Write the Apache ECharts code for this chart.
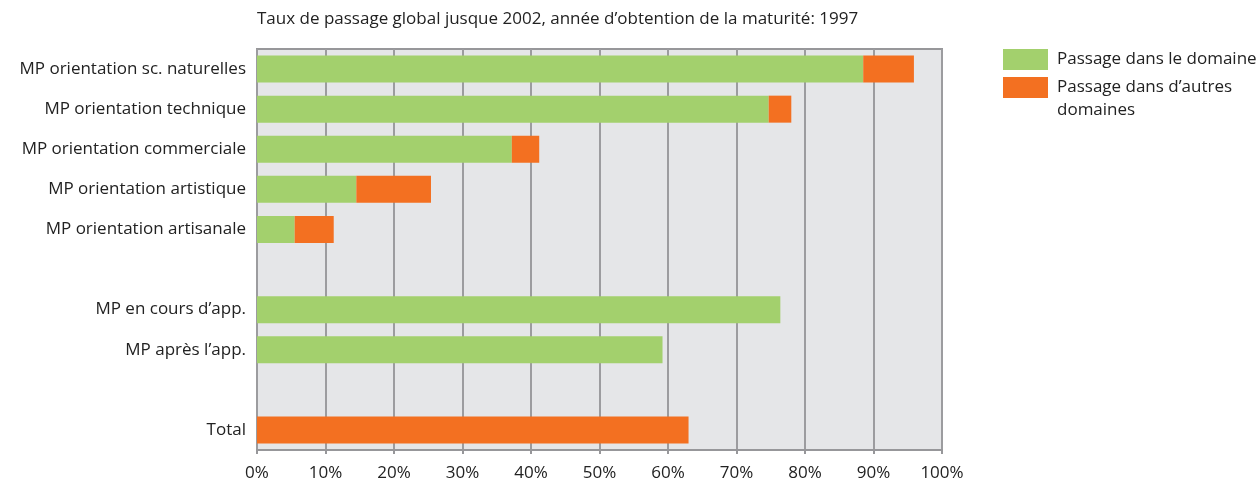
<!DOCTYPE html>
<html>
<head>
<meta charset="utf-8">
<script src="https://cdn.jsdelivr.net/npm/echarts@6/dist/echarts.min.js"></script>
<style>
  html, body { margin: 0; padding: 0; background: #fff; }
  #chart { width: 1260px; height: 482px; }
</style>
</head>
<body>
<div id="chart"></div>
<script>
// categories top to bottom, '' = empty spacer rows
const categories = [
  'MP orientation sc. naturelles',
  'MP orientation technique',
  'MP orientation commerciale',
  'MP orientation artistique',
  'MP orientation artisanale',
  '',
  'MP en cours d\u2019app.',
  'MP apr\u00e8s l\u2019app.',
  ' ',
  'Total'
]
const inDomain = [88.5, 74.7, 37.2, 14.5, 5.5, null, 76.4, 59.2, null, null]
const otherDomains = [7.4, 3.3, 4.0, 10.9, 5.7, null, null, null, null, 63.0]
const xTicks = [0, 10, 20, 30, 40, 50, 60, 70, 80, 90, 100]

const GREEN = '#a3d06d'
const ORANGE = '#f37021'
const FONT = '"Open Sans", "Noto Sans", sans-serif'

const chart = echarts.init(document.getElementById('chart'))

chart.setOption({
  animation: false,
  textStyle: { fontFamily: FONT },
  title: {
    text: 'Taux de passage global jusque 2002, ann\u00e9e d\u2019obtention de la maturit\u00e9: 1997',
    left: 252,
    top: 6,
    textStyle: { fontSize: 17, fontWeight: 'normal', color: '#222', fontFamily: FONT }
  },
  grid: {
    left: 257, right: 318, top: 49, bottom: 32,
    show: true,
    backgroundColor: '#e5e6e8',
    borderColor: '#97979a',
    borderWidth: 2
  },
  xAxis: {
    type: 'value',
    min: xTicks[0],
    max: xTicks[xTicks.length - 1],
    interval: 10,
    axisLine: { show: true, lineStyle: { color: '#97979a', width: 2 } },
    axisTick: { show: true, length: 4, lineStyle: { color: '#97979a', width: 2 } },
    splitLine: { show: true, lineStyle: { color: '#9c9c9f', width: 2 } },
    axisLabel: {
      formatter: v => v + '%',
      fontSize: 17, color: '#222', margin: 15, fontFamily: FONT
    }
  },
  yAxis: {
    type: 'category',
    inverse: true,
    data: categories,
    axisLine: { show: false },
    axisTick: { show: false },
    axisLabel: { fontSize: 17, color: '#222', margin: 11, fontFamily: FONT }
  },
  series: [
    {
      name: 'Passage dans le domaine',
      type: 'bar', stack: 'all', barWidth: 27,
      itemStyle: { color: GREEN },
      data: inDomain
    },
    {
      name: 'Passage dans d\u2019autres domaines',
      type: 'bar', stack: 'all', barWidth: 27,
      itemStyle: { color: ORANGE },
      data: otherDomains
    }
  ],
  graphic: [
    { type: 'rect', shape: { x: 1003, y: 49, width: 45, height: 21 }, style: { fill: GREEN } },
    { type: 'text', x: 1057, y: 48, style: { text: 'Passage dans le domaine', fontSize: 17, fill: '#222', fontFamily: FONT, lineHeight: 23 } },
    { type: 'rect', shape: { x: 1003, y: 77, width: 45, height: 21 }, style: { fill: ORANGE } },
    { type: 'text', x: 1057, y: 76, style: { text: 'Passage dans d\u2019autres\ndomaines', fontSize: 17, fill: '#222', fontFamily: FONT, lineHeight: 23 } }
  ]
})
</script>
</body>
</html>
